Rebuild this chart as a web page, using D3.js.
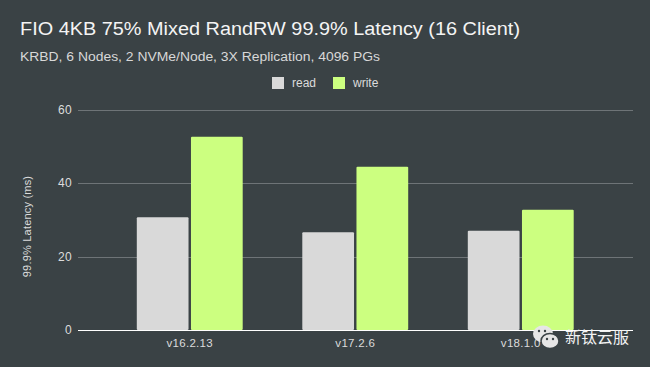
<!DOCTYPE html>
<html>
<head>
<meta charset="utf-8">
<script src="https://cdn.jsdelivr.net/npm/d3@7"></script>
<style>
  body { margin: 0; background: #3a4245; }
  svg { display: block; }
  text { font-family: "Liberation Sans", Arial, sans-serif; fill: #e8e8e8; }
</style>
</head>
<body>
<div id="chart"></div>
<script>
var versions = ["v16.2.13", "v17.2.6", "v18.1.0"];
var seriesNames = ["read", "write"];
var readValues = [30.7, 26.6, 27.0];
var writeValues = [52.6, 44.4, 32.7];
var yTicks = [0, 20, 40, 60];
var colors = { read: "#d9d9d9", write: "#ccff80" };

var width = 650, height = 367;

var svg = d3.select("#chart").append("svg")
    .attr("width", width)
    .attr("height", height);

svg.append("rect").attr("width", width).attr("height", height).attr("fill", "#3a4245");

// titles
svg.append("text")
    .attr("x", 20).attr("y", 35)
    .attr("textLength", 500)
    .attr("lengthAdjust", "spacingAndGlyphs")
    .style("font-size", "18px")
    .style("fill", "#f4f4f4")
    .text("FIO 4KB 75% Mixed RandRW 99.9% Latency (16 Client)");

svg.append("text")
    .attr("x", 20).attr("y", 61)
    .attr("textLength", 360)
    .attr("lengthAdjust", "spacingAndGlyphs")
    .style("font-size", "12.5px")
    .style("fill", "#d8d8d8")
    .text("KRBD, 6 Nodes, 2 NVMe/Node, 3X Replication, 4096 PGs");

// scales
var y = d3.scaleLinear().domain([0, 60]).range([330, 109.5]);
var x0 = d3.scaleBand().domain(versions).range([107, 603.5]).padding(0);
var x1 = d3.scaleBand().domain(seriesNames).range([0, x0.bandwidth()])
    .paddingInner(0.045).paddingOuter(0.55);

var gridLeft = 78, gridRight = 633;

// gridlines
svg.append("g")
    .selectAll("line")
    .data(yTicks.filter(function (d) { return d > 0; }))
    .join("line")
    .attr("x1", gridLeft).attr("x2", gridRight)
    .attr("y1", function (d) { return Math.round(y(d)) + 0.5; })
    .attr("y2", function (d) { return Math.round(y(d)) + 0.5; })
    .attr("stroke", "#6e7477")
    .attr("stroke-width", 1);

// y tick labels
svg.append("g")
    .selectAll("text")
    .data(yTicks)
    .join("text")
    .attr("x", 72)
    .attr("y", function (d) { return y(d) + 4; })
    .style("text-anchor", "end")
    .style("font-size", "12px")
    .style("letter-spacing", "0.3px")
    .style("fill", "#dcdcdc")
    .text(function (d) { return d; });

// y axis label
svg.append("text")
    .attr("transform", "translate(31," + 226.5 + ") rotate(-90)")
    .style("text-anchor", "middle")
    .style("font-size", "11px")
    .style("letter-spacing", "0.2px")
    .style("fill", "#dcdcdc")
    .text("99.9% Latency (ms)");

// bars
var rows = versions.map(function (v, i) {
    return { version: v, read: readValues[i], write: writeValues[i] };
});

var groups = svg.append("g")
    .selectAll("g")
    .data(rows)
    .join("g")
    .attr("transform", function (d) { return "translate(" + x0(d.version) + ",0)"; });

groups.selectAll("rect")
    .data(function (d) { return seriesNames.map(function (s) { return { key: s, value: d[s] }; }); })
    .join("rect")
    .attr("x", function (d) { return x1(d.key); })
    .attr("y", function (d) { return y(d.value); })
    .attr("width", x1.bandwidth())
    .attr("height", function (d) { return y(0) - y(d.value); })
    .attr("rx", 1)
    .attr("fill", function (d) { return colors[d.key]; });

// zero baseline
svg.append("line")
    .attr("x1", gridLeft).attr("x2", gridRight)
    .attr("y1", Math.round(y(0)) + 0.5).attr("y2", Math.round(y(0)) + 0.5)
    .attr("stroke", "#ffffff")
    .attr("stroke-width", 1.2);

// x labels
svg.append("g")
    .selectAll("text")
    .data(versions)
    .join("text")
    .attr("x", function (d) { return x0(d) + x0.bandwidth() / 2; })
    .attr("y", 347)
    .style("text-anchor", "middle")
    .style("font-size", "11.5px")
    .style("letter-spacing", "0.3px")
    .style("fill", "#dcdcdc")
    .text(function (d) { return d; });

// legend
var legend = svg.append("g").attr("transform", "translate(272,77)");
var lx = [0, 61];
seriesNames.forEach(function (s, i) {
    legend.append("rect")
        .attr("x", lx[i]).attr("y", 0)
        .attr("width", 12).attr("height", 12)
        .attr("fill", colors[s]);
    legend.append("text")
        .attr("x", lx[i] + 20).attr("y", 10)
        .style("font-size", "12px")
        .style("fill", "#dcdcdc")
        .text(s);
});

// watermark
var wm = svg.append("g").attr("transform", "translate(533,326)");
wm.append("ellipse").attr("cx", 10).attr("cy", 8).attr("rx", 10).attr("ry", 8.5).attr("fill", "#e6e6e6");
wm.append("ellipse").attr("cx", 17).attr("cy", 15).attr("rx", 9).attr("ry", 7.5)
    .attr("fill", "#e6e6e6").attr("stroke", "#3a4245").attr("stroke-width", 1.5);
[[6, 5], [12, 5], [14, 13], [20, 13]].forEach(function (p) {
    wm.append("circle").attr("cx", p[0]).attr("cy", p[1]).attr("r", 1.2).attr("fill", "#3a4245");
});
svg.append("text")
    .attr("x", 565).attr("y", 343)
    .style("font-family", "'Noto Sans CJK SC', sans-serif")
    .style("font-size", "16px")
    .style("fill", "#f2f2f2")
    .text("新钛云服");
</script>
</body>
</html>
